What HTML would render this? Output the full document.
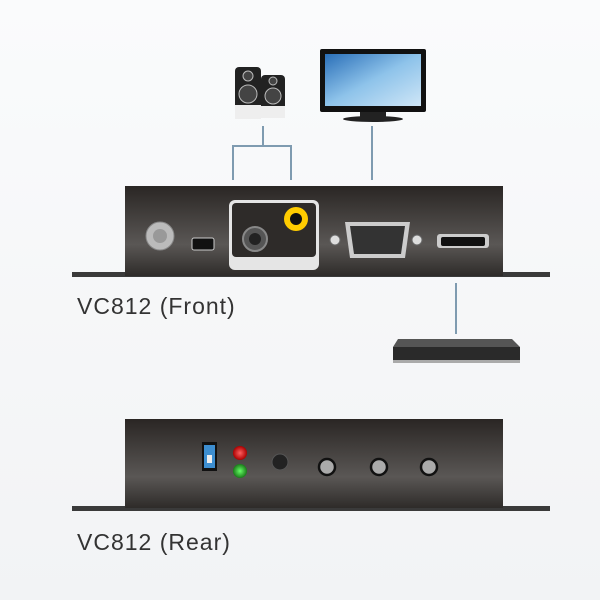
<!DOCTYPE html>
<html><head><style>
body{margin:0;width:600px;height:600px;background:linear-gradient(#fafbfc,#f2f3f5);position:relative;overflow:hidden;font-family:"Liberation Sans",sans-serif}
.a{position:absolute}
.lbl{position:absolute;left:77px;font-size:23px;color:#333;letter-spacing:1px}
</style></head><body>
<svg class="a" style="left:0;top:0" width="600" height="600">
<defs>
<linearGradient id="box" x1="0" y1="0" x2="0" y2="1"><stop offset="0" stop-color="#2a2624"/><stop offset="0.65" stop-color="#5a5755"/><stop offset="1" stop-color="#2e2b29"/></linearGradient>
<linearGradient id="scr" x1="0" y1="0" x2="1" y2="1"><stop offset="0" stop-color="#2a6fb8"/><stop offset="0.5" stop-color="#8ec3ea"/><stop offset="1" stop-color="#cfe6f7"/></linearGradient>
<radialGradient id="red"><stop offset="0" stop-color="#ff6060"/><stop offset="1" stop-color="#a00"/></radialGradient>
<radialGradient id="grn"><stop offset="0" stop-color="#6f6"/><stop offset="1" stop-color="#1a7a1a"/></radialGradient>
</defs>
<g stroke="#7f9bb0" stroke-width="2" fill="none">
<path d="M263 126V146M233 180V146H291V180"/>
<path d="M372 126V180"/>
<path d="M456 283V334"/>
</g>
<rect x="235" y="67" width="26" height="50" rx="4" fill="#222"/>
<rect x="235" y="105" width="26" height="14" fill="#eee"/>
<circle cx="248" cy="94" r="9" fill="#444" stroke="#bbb"/><circle cx="248" cy="76" r="5" fill="#444" stroke="#bbb"/>
<rect x="261" y="75" width="24" height="42" rx="4" fill="#222"/>
<rect x="261" y="106" width="24" height="12" fill="#eee"/>
<circle cx="273" cy="96" r="8" fill="#444" stroke="#bbb"/><circle cx="273" cy="81" r="4" fill="#444" stroke="#bbb"/>
<rect x="320" y="49" width="106" height="63" rx="2" fill="#111"/>
<rect x="325" y="54" width="96" height="52" fill="url(#scr)"/>
<rect x="360" y="112" width="26" height="5" fill="#222"/>
<ellipse cx="373" cy="119" rx="30" ry="3" fill="#222"/>
<path d="M398 339H512L520 347H393Z" fill="#555"/>
<rect x="393" y="347" width="127" height="14" fill="#2a2a2a"/>
<rect x="393" y="360" width="127" height="3" fill="#aaa"/>
<rect x="72" y="272" width="478" height="5" fill="#3a3a3a"/>
<rect x="125" y="186" width="378" height="90" fill="url(#box)"/>
<circle cx="160" cy="236" r="14" fill="#bbb" stroke="#888"/><circle cx="160" cy="236" r="7" fill="#999"/>
<rect x="192" y="238" width="22" height="12" rx="2" fill="#111" stroke="#ccc"/>
<rect x="229" y="200" width="90" height="70" rx="6" fill="#e5e5e5"/>
<rect x="232" y="203" width="84" height="54" rx="4" fill="#2e2b29"/>
<circle cx="255" cy="239" r="12" fill="#555" stroke="#888" stroke-width="2"/><circle cx="255" cy="239" r="6" fill="#222"/>
<circle cx="296" cy="219" r="12" fill="#ffcc00"/><circle cx="296" cy="219" r="6" fill="#111"/>
<circle cx="335" cy="240" r="5" fill="#ddd" stroke="#666"/><circle cx="417" cy="240" r="5" fill="#ddd" stroke="#666"/>
<path d="M345 222H410L405 258H350Z" fill="#ccc"/>
<path d="M350 226H405L401 254H354Z" fill="#333"/>
<rect x="437" y="234" width="52" height="14" rx="3" fill="#ccc"/><rect x="441" y="237" width="44" height="9" rx="2" fill="#111"/>
<rect x="72" y="506" width="478" height="5" fill="#3a3a3a"/>
<rect x="125" y="419" width="378" height="89" fill="url(#box)"/>
<rect x="202" y="442" width="15" height="29" fill="#111"/><rect x="204" y="445" width="11" height="23" fill="#3d8ed0"/><rect x="207" y="455" width="5" height="8" fill="#eee"/>
<circle cx="240" cy="453" r="7" fill="url(#red)"/><circle cx="240" cy="471" r="7" fill="url(#grn)"/>
<circle cx="280" cy="462" r="8" fill="#222" stroke="#555"/>
<g fill="#aaa" stroke="#111" stroke-width="2.5"><circle cx="327" cy="467" r="8"/><circle cx="379" cy="467" r="8"/><circle cx="429" cy="467" r="8"/></g>
</svg>
<div class="lbl" style="top:293px">VC812 (Front)</div>
<div class="lbl" style="top:529px">VC812 (Rear)</div>
</body></html>
